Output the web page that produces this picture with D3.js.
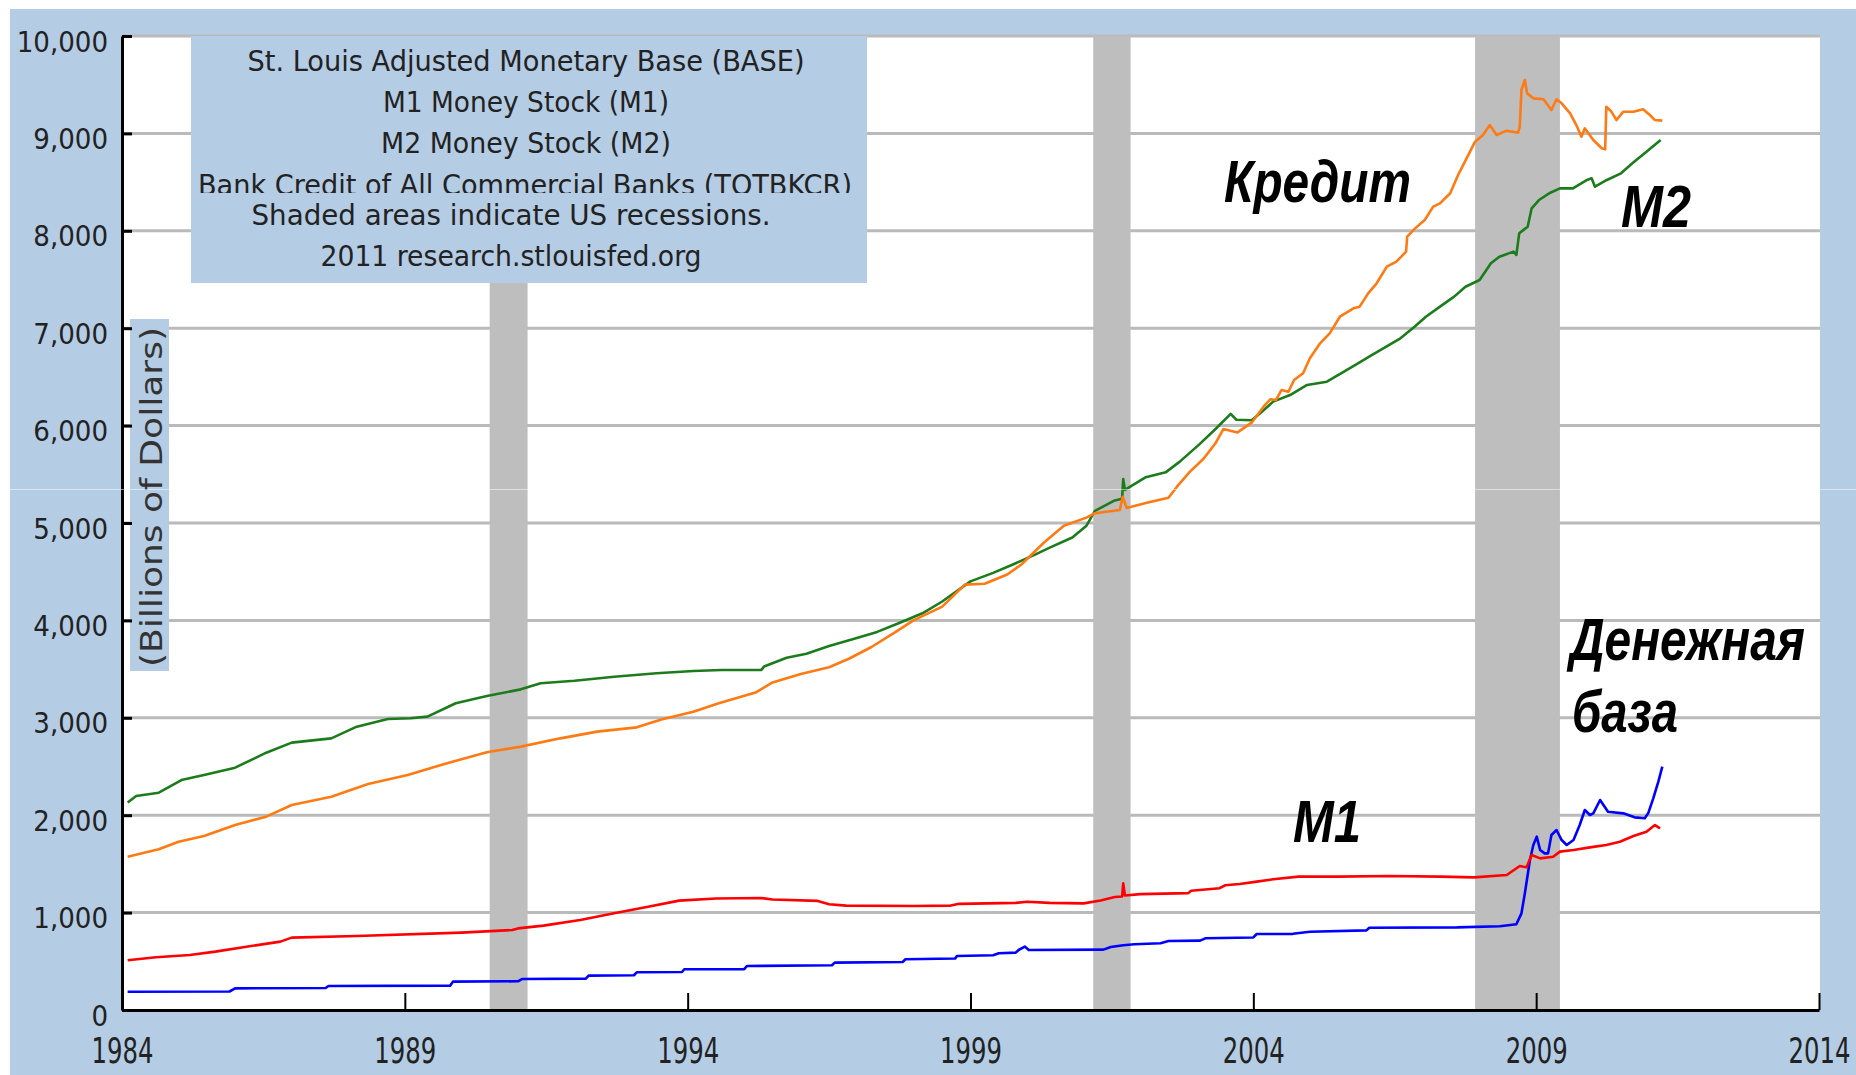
<!DOCTYPE html>
<html>
<head>
<meta charset="utf-8">
<title>BASE, M1, M2, TOTBKCR</title>
<script src="https://cdn.jsdelivr.net/npm/d3@7"></script>
<style>
  body { margin: 0; background: #fff; }
  svg { display: block; }
</style>
</head>
<body>
<script>
// series as [year, billions of dollars]
const base = [
  [1984.1, 188], [1985.9, 190], [1986.0, 222], [1987.6, 226], [1987.65, 246], [1989.8, 250],
  [1989.85, 291], [1991.0, 295], [1991.07, 318], [1992.2, 322], [1992.25, 353], [1993.05, 357],
  [1993.1, 387], [1993.9, 390], [1993.94, 418], [1995.0, 420], [1995.05, 452], [1996.55, 459],
  [1996.6, 486], [1997.8, 493], [1997.85, 521], [1998.73, 528], [1998.76, 555], [1999.4, 562],
  [1999.5, 582], [1999.8, 589], [1999.85, 616], [1999.96, 651], [2000.03, 616], [2001.35, 620],
  [2001.48, 647], [2001.7, 664], [2001.9, 675], [2002.36, 685], [2002.5, 709], [2003.06, 712],
  [2003.15, 736], [2004.0, 745], [2004.06, 780], [2004.7, 782], [2005.0, 804], [2006.0, 818],
  [2006.05, 845], [2007.6, 848], [2008.36, 860], [2008.65, 880], [2008.74, 992], [2008.8, 1198],
  [2008.89, 1540], [2008.95, 1694], [2009.01, 1780], [2009.07, 1643], [2009.15, 1608], [2009.21, 1608],
  [2009.27, 1797], [2009.36, 1848], [2009.45, 1745], [2009.54, 1694], [2009.66, 1745], [2009.77, 1899],
  [2009.86, 2053], [2009.95, 2002], [2010.01, 2019], [2010.13, 2156], [2010.27, 2036], [2010.54, 2019],
  [2010.74, 1978], [2010.92, 1968], [2010.98, 2019], [2011.07, 2173], [2011.16, 2344], [2011.23, 2498]
];

const m1 = [
  [1984.1, 510], [1984.6, 541], [1985.2, 565], [1985.65, 599], [1986.2, 650], [1986.8, 702],
  [1987.0, 743], [1988.15, 760], [1990.0, 794], [1990.9, 821], [1991.0, 838], [1991.45, 866],
  [1992.1, 924], [1992.7, 993], [1993.3, 1061], [1993.85, 1123], [1994.5, 1145], [1995.3, 1150],
  [1995.5, 1135], [1996.3, 1120], [1996.5, 1085], [1996.8, 1072], [1998.0, 1068], [1998.65, 1072],
  [1998.8, 1090], [1999.8, 1100], [2000.0, 1112], [2000.4, 1100], [2001.0, 1095], [2001.3, 1125],
  [2001.55, 1160], [2001.68, 1165], [2001.7, 1300], [2001.73, 1175], [2002.0, 1190], [2002.85, 1200],
  [2002.9, 1225], [2003.4, 1250], [2003.5, 1280], [2003.76, 1294], [2004.06, 1318], [2004.35, 1342],
  [2004.8, 1369], [2005.5, 1369], [2006.4, 1376], [2007.3, 1369], [2007.9, 1362], [2008.48, 1386],
  [2008.71, 1478], [2008.83, 1465], [2008.92, 1591], [2009.07, 1557], [2009.3, 1574], [2009.42, 1626],
  [2009.66, 1643], [2009.95, 1670], [2010.24, 1694], [2010.48, 1728], [2010.72, 1786], [2010.95, 1831],
  [2011.1, 1899], [2011.19, 1865]
];

const m2 = [
  [1984.1, 2130], [1984.25, 2197], [1984.65, 2231], [1985.05, 2361], [1985.45, 2413], [1986.0, 2488],
  [1986.55, 2642], [1987.0, 2745], [1987.7, 2789], [1988.15, 2909], [1988.7, 2988], [1989.1, 2995],
  [1989.4, 3012], [1989.9, 3149], [1990.45, 3224], [1991.05, 3292], [1991.4, 3354], [1992.0, 3381],
  [1992.7, 3422], [1993.45, 3457], [1994.1, 3481], [1994.6, 3490], [1995.3, 3490], [1995.35, 3526],
  [1995.75, 3616], [1996.1, 3657], [1996.5, 3737], [1996.9, 3803], [1997.35, 3882], [1997.75, 3976],
  [1998.15, 4073], [1998.5, 4194], [1999.0, 4401], [1999.4, 4488], [1999.75, 4574], [2000.15, 4678],
  [2000.4, 4747], [2000.8, 4851], [2001.05, 4972], [2001.2, 5125], [2001.55, 5232], [2001.68, 5250],
  [2001.7, 5450], [2001.73, 5340], [2002.1, 5470], [2002.45, 5520], [2002.7, 5630], [2003.05, 5810],
  [2003.35, 5975], [2003.6, 6120], [2003.7, 6060], [2003.97, 6055], [2004.12, 6126], [2004.35, 6246],
  [2004.65, 6314], [2004.95, 6417], [2005.3, 6451], [2005.55, 6537], [2005.85, 6639], [2006.1, 6725],
  [2006.35, 6810], [2006.6, 6896], [2006.85, 7015], [2007.05, 7118], [2007.3, 7221], [2007.55, 7324],
  [2007.75, 7426], [2008.0, 7495], [2008.2, 7666], [2008.35, 7734], [2008.6, 7786], [2008.65, 7752],
  [2008.7, 7974], [2008.85, 8042], [2008.92, 8231], [2009.05, 8316], [2009.25, 8391], [2009.42, 8436],
  [2009.65, 8436], [2009.9, 8522], [2009.98, 8539], [2010.04, 8453], [2010.25, 8522], [2010.5, 8590],
  [2010.7, 8693], [2010.95, 8812], [2011.2, 8932]
];

const credit = [
  [1984.1, 1574], [1984.65, 1650], [1985.0, 1728], [1985.45, 1787], [1986.0, 1900], [1986.55, 1985],
  [1987.0, 2105], [1987.7, 2190], [1988.35, 2320], [1989.05, 2413], [1989.7, 2526], [1990.45, 2646],
  [1991.05, 2704], [1991.75, 2789], [1992.4, 2858], [1993.1, 2902], [1993.55, 2984], [1994.1, 3063],
  [1994.55, 3150], [1995.2, 3259], [1995.5, 3363], [1996.0, 3450], [1996.5, 3519], [1996.85, 3606],
  [1997.25, 3727], [1997.65, 3872], [1998.0, 4003], [1998.5, 4142], [1998.9, 4367], [1999.25, 4377],
  [1999.65, 4471], [1999.9, 4574], [2000.3, 4800], [2000.65, 4972], [2001.05, 5055], [2001.2, 5100],
  [2001.64, 5133], [2001.69, 5270], [2001.76, 5155], [2002.1, 5205], [2002.5, 5260], [2002.65, 5373],
  [2002.88, 5527], [2003.12, 5660], [2003.33, 5818], [2003.47, 5965], [2003.72, 5930], [2003.97, 6030],
  [2004.18, 6194], [2004.3, 6270], [2004.4, 6263], [2004.5, 6366], [2004.62, 6348], [2004.72, 6468],
  [2004.88, 6537], [2005.0, 6691], [2005.18, 6845], [2005.35, 6947], [2005.53, 7118], [2005.77, 7204],
  [2005.88, 7221], [2006.03, 7358], [2006.18, 7461], [2006.36, 7632], [2006.53, 7683], [2006.7, 7786],
  [2006.72, 7940], [2006.86, 8025], [2007.03, 8111], [2007.18, 8248], [2007.3, 8282], [2007.48, 8385],
  [2007.62, 8573], [2007.77, 8744], [2007.92, 8915], [2008.06, 8984], [2008.18, 9086], [2008.3, 8984],
  [2008.48, 9028], [2008.68, 9007], [2008.71, 9069], [2008.74, 9446], [2008.8, 9548], [2008.84, 9411],
  [2008.95, 9360], [2009.13, 9350], [2009.27, 9240], [2009.36, 9350], [2009.45, 9309], [2009.6, 9206],
  [2009.71, 9086], [2009.8, 8966], [2009.86, 9052], [2010.01, 8932], [2010.16, 8847], [2010.22, 8836],
  [2010.24, 9274], [2010.33, 9223], [2010.42, 9137], [2010.54, 9223], [2010.72, 9223], [2010.89, 9247],
  [2011.01, 9189], [2011.1, 9137], [2011.23, 9131]
];

const recessions = [[1990.5, 1991.17], [2001.17, 2001.83], [2007.92, 2009.42]];
const yearTicks = [1984, 1989, 1994, 1999, 2004, 2009, 2014];
const valueTicks = [0, 1000, 2000, 3000, 4000, 5000, 6000, 7000, 8000, 9000, 10000];

const legendLines = [
  "St. Louis Adjusted Monetary Base (BASE)",
  "M1 Money Stock (M1)",
  "M2 Money Stock (M2)",
  "Bank Credit of All Commercial Banks (TOTBKCR)",
  "Shaded areas indicate US recessions.",
  "2011 research.stlouisfed.org"
];
const yTitle = "(Billions of Dollars)";
const notes = ["Кредит", "M2", "M1", "Денежная", "база"];

// layout (pixels)
const W = 1856, H = 1075;
const plot = { left: 122, right: 1820, top: 36, bottom: 1010 };
const bg = "#b4cce4";
const legendPos = [
  { x: 526, y: 71, w: 557 }, { x: 526, y: 112, w: 286 }, { x: 526, y: 153, w: 290 },
  { x: 525, y: 195, w: 654 }, { x: 511, y: 225, w: 519 }, { x: 511, y: 266, w: 381 }
];
const notePos = [
  { x: 1224, y: 202, w: 187 }, { x: 1621, y: 227, w: 70 }, { x: 1293, y: 842, w: 68 },
  { x: 1570, y: 660, w: 235 }, { x: 1572, y: 732, w: 106 }
];

const svg = d3.select("body").append("svg")
  .attr("width", W)
  .attr("height", H);

const x = d3.scaleLinear().domain([1984, 2014]).range([plot.left, 1819]);
const y = d3.scaleLinear().domain([0, 10000]).range([plot.bottom, plot.top]);

// page and plot backgrounds
svg.append("rect").attr("width", W).attr("height", H).attr("fill", "#fff");
svg.append("rect").attr("x", 10).attr("y", 9).attr("width", W - 10).attr("height", H - 9).attr("fill", bg);
svg.append("rect")
  .attr("x", plot.left).attr("y", plot.top)
  .attr("width", plot.right - plot.left).attr("height", plot.bottom - plot.top)
  .attr("fill", "#fff");

// grid
svg.append("g").selectAll("line")
  .data(valueTicks.filter((d) => d > 0))
  .join("line")
  .attr("x1", plot.left).attr("x2", plot.right)
  .attr("y1", (d) => y(d)).attr("y2", (d) => y(d))
  .attr("stroke", "#bababa")
  .attr("stroke-width", 3);

// recession bands
svg.append("g").selectAll("rect")
  .data(recessions)
  .join("rect")
  .attr("x", (d) => x(d[0]))
  .attr("width", (d) => x(d[1]) - x(d[0]))
  .attr("y", plot.top)
  .attr("height", plot.bottom - plot.top)
  .attr("fill", "#bebebe");

// legend box
svg.append("rect").attr("x", 191).attr("y", 36).attr("width", 676).attr("height", 247).attr("fill", bg);
svg.append("clipPath").attr("id", "cut")
  .append("rect").attr("x", 0).attr("y", 0).attr("width", W).attr("height", 193);
svg.append("g").selectAll("text")
  .data(legendLines)
  .join("text")
  .attr("x", (d, i) => legendPos[i].x)
  .attr("y", (d, i) => legendPos[i].y)
  .attr("textLength", (d, i) => legendPos[i].w)
  .attr("lengthAdjust", "spacingAndGlyphs")
  .attr("clip-path", (d, i) => i === 3 ? "url(#cut)" : null)
  .attr("text-anchor", "middle")
  .attr("font-family", "'DejaVu Sans Condensed', 'DejaVu Sans', sans-serif")
  .attr("font-size", 29)
  .attr("fill", "#222")
  .text((d) => d);

// y title box
svg.append("rect").attr("x", 130).attr("y", 319).attr("width", 39).attr("height", 352).attr("fill", bg);
svg.append("text")
  .attr("transform", "translate(162,497) rotate(-90)")
  .attr("text-anchor", "middle")
  .attr("textLength", 340)
  .attr("lengthAdjust", "spacingAndGlyphs")
  .attr("font-family", "'DejaVu Sans', sans-serif")
  .attr("font-size", 31)
  .attr("fill", "#333")
  .text(yTitle);

// series
const line = d3.line().x((d) => x(d[0])).y((d) => y(d[1]));
const series = [
  { data: base, color: "#0000ff" },
  { data: m1, color: "#ff0000" },
  { data: m2, color: "#1c7c1c" },
  { data: credit, color: "#ff7a12" }
];
svg.append("g").selectAll("path")
  .data(series)
  .join("path")
  .attr("d", (d) => line(d.data))
  .attr("fill", "none")
  .attr("stroke", (d) => d.color)
  .attr("stroke-width", 2.6)
  .attr("stroke-linejoin", "round");

// axes
const xAxis = svg.append("g")
  .attr("transform", `translate(0,${plot.bottom})`)
  .call(d3.axisBottom(x).tickValues(yearTicks).tickFormat(d3.format("d"))
    .tickSizeInner(-17).tickSizeOuter(0).tickPadding(0));
xAxis.select(".domain").attr("stroke", "#000").attr("stroke-width", 3);
xAxis.selectAll(".tick line").attr("stroke", "#000").attr("stroke-width", 2);
xAxis.selectAll(".tick text")
  .attr("y", 53).attr("dy", 0)
  .attr("font-family", "'DejaVu Sans Condensed', 'DejaVu Sans', sans-serif")
  .attr("font-size", 36)
  .attr("textLength", 62)
  .attr("lengthAdjust", "spacingAndGlyphs")
  .attr("fill", "#222");

const yAxis = svg.append("g")
  .attr("transform", `translate(${plot.left},0)`)
  .call(d3.axisLeft(y).tickValues(valueTicks).tickFormat(d3.format(","))
    .tickSizeInner(-10).tickSizeOuter(0).tickPadding(14));
yAxis.select(".domain").attr("stroke", "#000").attr("stroke-width", 3);
yAxis.selectAll(".tick line").attr("stroke", "#000").attr("stroke-width", 3);
yAxis.selectAll(".tick text")
  .attr("dy", 15)
  .attr("font-family", "'DejaVu Sans Condensed', 'DejaVu Sans', sans-serif")
  .attr("font-size", 29)
  .attr("fill", "#222");

// hand-written labels
svg.append("g").selectAll("text")
  .data(notes)
  .join("text")
  .attr("x", (d, i) => notePos[i].x)
  .attr("y", (d, i) => notePos[i].y)
  .attr("textLength", (d, i) => notePos[i].w)
  .attr("lengthAdjust", "spacingAndGlyphs")
  .attr("font-family", "'Liberation Sans Narrow', 'Liberation Sans', Arial, sans-serif")
  .attr("font-weight", "bold")
  .attr("font-style", "italic")
  .attr("font-size", 60)
  .attr("fill", "#000")
  .text((d) => d);

// faint seam across the image
svg.append("line")
  .attr("x1", 10).attr("x2", W).attr("y1", 489.5).attr("y2", 489.5)
  .attr("stroke", "#fff").attr("stroke-opacity", 0.5).attr("stroke-width", 1);
</script>
</body>
</html>
